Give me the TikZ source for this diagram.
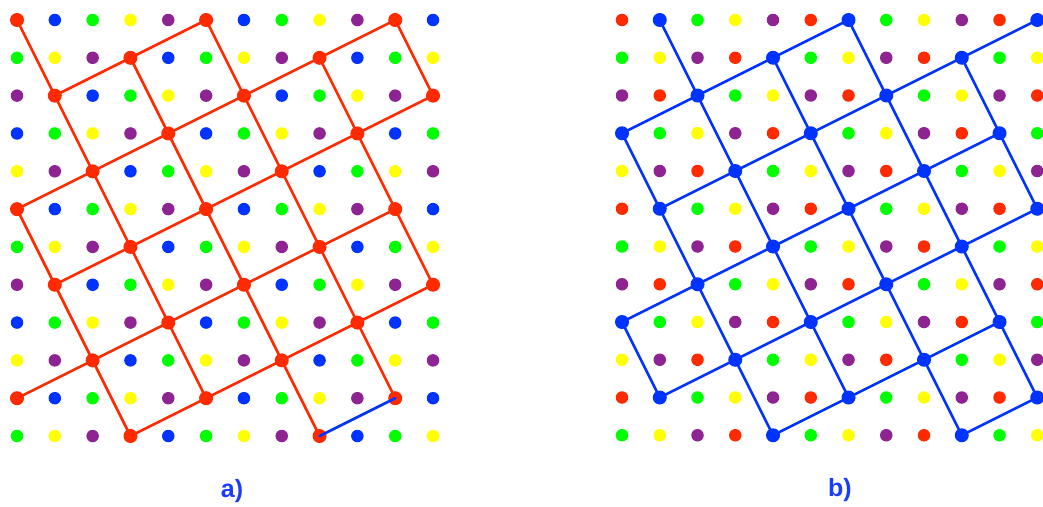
\documentclass[tikz,border=0pt]{standalone}
\usepackage{fontspec}
\setmainfont{Liberation Sans}
\definecolor{cR}{HTML}{FF2A00}
\definecolor{cB}{HTML}{0033FF}
\definecolor{cG}{HTML}{00FF00}
\definecolor{cY}{HTML}{FFFF00}
\definecolor{cP}{HTML}{8E2392}
\definecolor{labc}{HTML}{1A3CFF}
\pgfdeclarelayer{bg}
\pgfsetlayers{bg,main}
\tikzset{
  dot/.style={circle,fill=#1,inner sep=0pt,minimum size=12.5pt},
  latnode/.style={circle,fill=#1,inner sep=0pt,minimum size=14pt},
  latedge/.style={draw=#1,line width=2.6pt,line cap=round},
  lab/.style={text=labc,font=\bfseries\fontsize{25}{25}\selectfont}
}
\begin{document}
\begin{tikzpicture}[x=1pt,y=-1pt]
\useasboundingbox (0,0) rectangle (1043,506);
% dots
\foreach \side/\ox/\st/\nc in {L/17/37.82/0, R/622/37.75/1}{
  \foreach \i in {0,...,11}{
    \foreach \j in {0,...,11}{
      \pgfmathtruncatemacro\c{mod(\i+2*\j,5)}
      \edef\col{\ifcase\c cR\or cB\or cG\or cY\or cP\fi}
      \ifnum\c=\nc
        \node[latnode=\col] (\side-\i-\j) at (\ox+\i*\st,20+\j*\st) {};
      \else
        \node[dot=\col] (\side-\i-\j) at (\ox+\i*\st,20+\j*\st) {};
      \fi
    }
  }
}
% lattice edges
\begin{pgfonlayer}{bg}
\foreach \side/\nc/\ec/\sf in {L/0/cR/1, R/1/cB/0}{
  \foreach \i in {0,...,11}{
    \foreach \j in {0,...,11}{
      \pgfmathtruncatemacro\c{mod(\i+2*\j,5)}
      \ifnum\c=\nc
        \pgfmathtruncatemacro\ia{\i+2}
        \pgfmathtruncatemacro\ja{\j-1}
        \pgfmathtruncatemacro\ib{\i+1}
        \pgfmathtruncatemacro\jb{\j+2}
        \pgfmathtruncatemacro\skp{\sf*(\i==8)*(\j==11)}
        \ifnum\ia<12 \ifnum\ja>-1
          \ifnum\skp=0
            \draw[latedge=\ec] (\side-\i-\j.center) -- (\side-\ia-\ja.center);
          \fi
        \fi\fi
        \ifnum\ib<12 \ifnum\jb<12
          \draw[latedge=\ec] (\side-\i-\j.center) -- (\side-\ib-\jb.center);
        \fi\fi
      \fi
    }
  }
}
\end{pgfonlayer}
% highlighted edge
\draw[latedge=cB] (L-8-11.center) -- (L-10-10.center);
% labels
\node[lab] (la) at (232,491) {a)};
\node[lab] (lb) at (840,490) {b)};
\end{tikzpicture}
\end{document}
